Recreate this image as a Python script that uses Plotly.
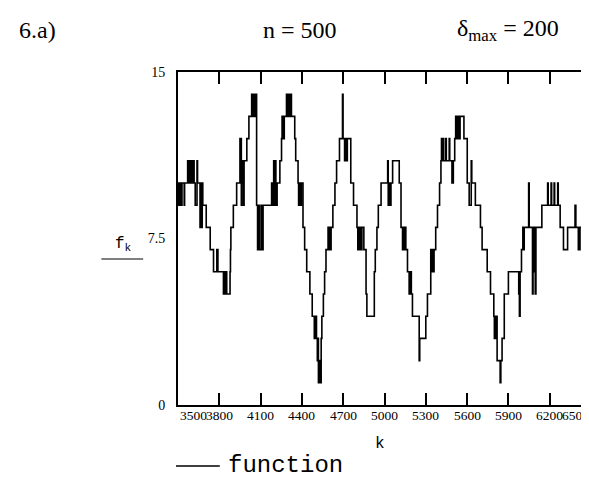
import plotly.graph_objects as go

# step function f_k: value holds from each k until the next one
k_steps = [
    3500, 3505, 3509, 3514, 3518, 3522, 3526, 3529, 3545, 3548, 3570, 3574, 3578, 3582, 3586, 3590,
    3594, 3599, 3603, 3608, 3612, 3617, 3625, 3638, 3642, 3660, 3663, 3666, 3669, 3672, 3676, 3680,
    3705, 3734, 3758, 3782, 3790, 3830, 3834, 3838, 3842, 3846, 3850, 3854, 3878, 3881, 3884, 3902,
    3926, 3950, 3953, 3957, 3960, 3964, 3968, 3972, 3976, 3980, 4000, 4015, 4035, 4039, 4043, 4047,
    4051, 4055, 4059, 4063, 4067, 4071, 4078, 4083, 4092, 4105, 4112, 4118, 4180, 4191, 4195, 4199,
    4203, 4207, 4211, 4215, 4220, 4240, 4252, 4256, 4260, 4264, 4268, 4272, 4288, 4292, 4296, 4300,
    4304, 4310, 4314, 4324, 4348, 4355, 4372, 4376, 4380, 4384, 4388, 4392, 4396, 4408, 4420, 4435,
    4458, 4475, 4490, 4494, 4498, 4502, 4506, 4512, 4516, 4520, 4524, 4528, 4532, 4536, 4540, 4545,
    4556, 4565, 4575, 4590, 4600, 4604, 4608, 4612, 4625, 4640, 4652, 4673, 4695, 4699, 4710, 4714,
    4718, 4722, 4726, 4730, 4755, 4775, 4800, 4806, 4810, 4814, 4818, 4822, 4826, 4830, 4836, 4850,
    4866, 4872, 4926, 4933, 4945, 4955, 4975, 5023, 5027, 5031, 5035, 5039, 5043, 5047, 5059, 5107,
    5120, 5131, 5135, 5139, 5143, 5147, 5151, 5155, 5167, 5179, 5183, 5187, 5191, 5195, 5203, 5252,
    5256, 5300, 5312, 5336, 5340, 5344, 5348, 5352, 5356, 5360, 5372, 5385, 5400, 5410, 5414, 5418,
    5425, 5430, 5445, 5449, 5470, 5474, 5490, 5500, 5510, 5517, 5521, 5525, 5529, 5533, 5537, 5541,
    5545, 5549, 5577, 5601, 5615, 5630, 5634, 5660, 5697, 5709, 5746, 5770, 5794, 5798, 5802, 5806,
    5810, 5818, 5840, 5845, 5854, 5870, 5900, 5975, 5980, 5985, 5995, 6005, 6010, 6015, 6047, 6051,
    6075, 6079, 6085, 6089, 6095, 6100, 6143, 6185, 6189, 6210, 6214, 6232, 6236, 6258, 6262, 6276,
    6300, 6330, 6384, 6390, 6408, 6412, 6416, 6420, 6445, 6500,
]
f_steps = [
    9, 10, 9, 10, 9, 10, 9, 10, 9, 10, 11, 10, 11, 10, 11, 10,
    11, 10, 11, 10, 11, 10, 9, 11, 10, 8, 10, 8, 10, 8, 10, 9,
    8, 7, 6, 7, 6, 5, 6, 5, 6, 5, 6, 5, 6, 7, 8, 9,
    10, 12, 10, 12, 9, 11, 10, 11, 9, 11, 12, 13, 14, 13, 14, 13,
    14, 13, 14, 13, 14, 9, 7, 9, 7, 9, 7, 9, 10, 9, 11, 10,
    9, 11, 10, 9, 10, 11, 12, 13, 12, 13, 12, 13, 14, 13, 14, 13,
    14, 13, 14, 13, 12, 11, 10, 9, 10, 9, 10, 9, 10, 8, 7, 6,
    5, 4, 3, 4, 3, 4, 3, 2, 3, 1, 2, 1, 2, 1, 3, 4,
    5, 6, 7, 8, 7, 8, 7, 8, 9, 10, 11, 12, 14, 12, 11, 12,
    11, 12, 11, 12, 10, 9, 8, 7, 8, 7, 8, 7, 8, 7, 8, 7,
    5, 4, 6, 7, 8, 9, 10, 11, 9, 10, 9, 10, 9, 10, 11, 10,
    8, 7, 8, 7, 8, 7, 8, 7, 6, 5, 6, 5, 6, 5, 4, 2,
    3, 4, 5, 7, 6, 7, 6, 7, 6, 7, 8, 9, 10, 11, 12, 11,
    12, 11, 12, 11, 12, 11, 10, 11, 12, 13, 12, 13, 12, 13, 12, 13,
    12, 13, 12, 10, 9, 11, 10, 9, 8, 7, 6, 5, 4, 3, 4, 3,
    4, 2, 1, 2, 3, 5, 6, 5, 4, 6, 7, 8, 7, 8, 10, 8,
    5, 8, 6, 8, 5, 8, 9, 10, 9, 10, 9, 10, 9, 10, 9, 8,
    7, 8, 9, 8, 7, 8, 7, 8, 5, 5,
]

x_ticks = [3500, 3800, 4100, 4400, 4700, 5000, 5300, 5600, 5900, 6200, 6500]
y_ticks = [0, 7.5, 15]
y_tick_text = ["0", "7.5", "15"]

# plot box in pixels (page is 589 x 479)
L, R, T, B = 170, 585, 64, 397
W, H = R - L, B - T


def px(x):
    return (x - L) / W


def py(y):
    return (B - y) / H


SERIF = "Liberation Serif"
MONO = "Liberation Mono"

fig = go.Figure()

fig.add_trace(go.Scatter(
    x=k_steps,
    y=f_steps,
    mode="lines",
    line=dict(color="black", width=1.6, shape="hv"),
    name="function",
    showlegend=False,
    hoverinfo="skip",
))

fig.update_layout(
    width=589,
    height=479,
    margin=dict(l=L, r=589 - R, t=T, b=479 - B),
    paper_bgcolor="white",
    plot_bgcolor="white",
    font=dict(family=SERIF, color="black", size=14),
    xaxis=dict(
        range=[x_ticks[0], x_ticks[-1]],
        showgrid=False,
        zeroline=False,
        showline=True,
        linecolor="black",
        linewidth=2,
        mirror="ticks",
        ticks="inside",
        ticklen=12,
        tickwidth=1.5,
        tickcolor="black",
        tickvals=x_ticks[1:-1],
        showticklabels=False,
    ),
    yaxis=dict(
        range=[y_ticks[0], y_ticks[-1]],
        showgrid=False,
        zeroline=False,
        showline=True,
        linecolor="black",
        linewidth=2,
        mirror=True,
        ticks="",
        tickvals=y_ticks,
        ticktext=y_tick_text,
        ticklabelstandoff=8,
        tickfont=dict(family=SERIF, size=14, color="black"),
    ),
)

# x tick labels: Mathcad keeps the end labels inside the box, so they run into their neighbours
for i, t in enumerate(x_ticks):
    anchor = "left" if i == 0 else ("right" if i == len(x_ticks) - 1 else "center")
    fig.add_annotation(
        x=t, y=0, xref="x", yref="paper",
        text=str(t), showarrow=False,
        xanchor=anchor, yanchor="top", yshift=-1,
        font=dict(family=SERIF, size=13.5, color="black"),
    )

# header line
headers = [
    ("6.a)", 8, "left"),
    ("n = 500", 293, "center"),
    ("δ<sub>max</sub> = 200", 502, "center"),
]
for text, x, anchor in headers:
    fig.add_annotation(
        x=px(x), y=py(22), xref="paper", yref="paper",
        text=text, showarrow=False, xanchor=anchor, yanchor="middle",
        font=dict(family=SERIF, size=24, color="black"),
    )

# axis labels
fig.add_annotation(
    x=px(115), y=py(236), xref="paper", yref="paper",
    text="f<sub>k</sub>", showarrow=False, xanchor="center", yanchor="middle",
    font=dict(family=MONO, size=16, color="black"),
)
fig.add_shape(type="line", xref="paper", yref="paper",
              x0=px(93), x1=px(135), y0=py(251), y1=py(251),
              line=dict(color="black", width=1.2))
fig.add_annotation(
    x=px(373), y=py(436), xref="paper", yref="paper",
    text="k", showarrow=False, xanchor="center", yanchor="middle",
    font=dict(family=MONO, size=16, color="black"),
)

# legend entry
fig.add_shape(type="line", xref="paper", yref="paper",
              x0=px(168), x1=px(212), y0=py(458), y1=py(458),
              line=dict(color="black", width=1.5))
fig.add_annotation(
    x=px(218), y=py(457), xref="paper", yref="paper",
    text="function", showarrow=False, xanchor="left", yanchor="middle",
    font=dict(family=MONO, size=24, color="black"),
)

fig.write_html("out.html")
